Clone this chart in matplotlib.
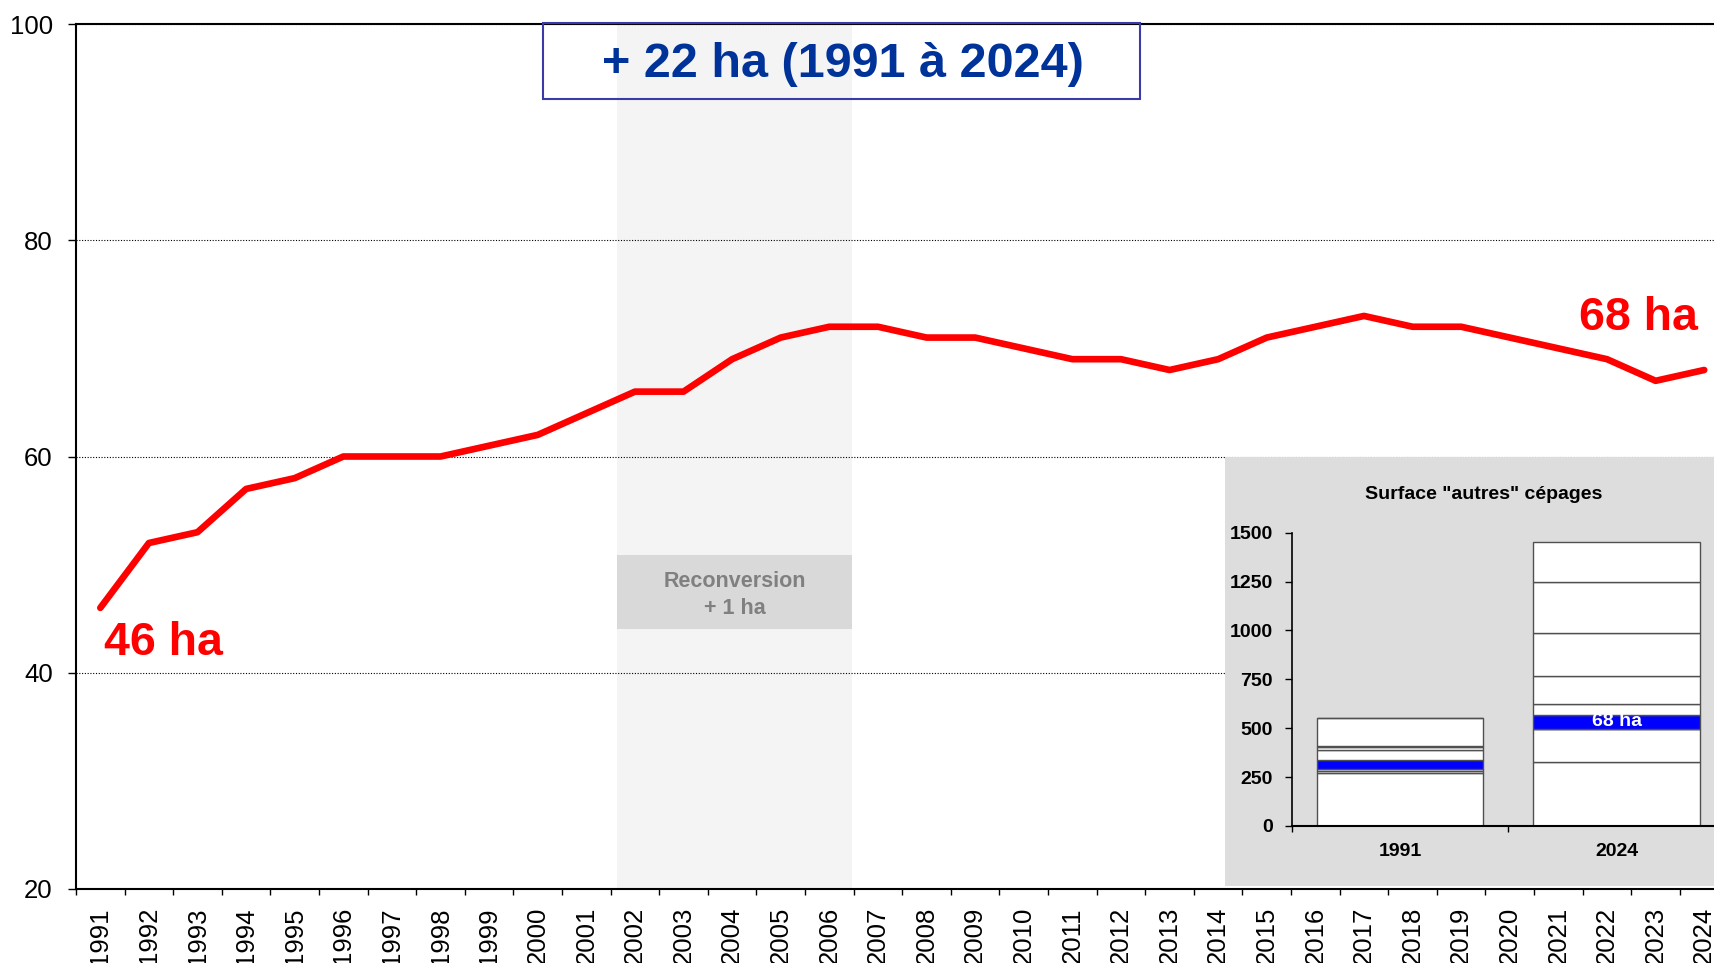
import matplotlib
matplotlib.use("Agg")
import matplotlib.pyplot as plt
import numpy as np
from matplotlib.patches import Rectangle

plt.rcParams['font.family'] = ['Liberation Sans', 'DejaVu Sans']

# ---------------- data ----------------
years = [1991, 1992, 1993, 1994, 1995, 1996, 1997, 1998, 1999, 2000, 2001, 2002,
         2003, 2004, 2005, 2006, 2007, 2008, 2009, 2010, 2011, 2012, 2013, 2014,
         2015, 2016, 2017, 2018, 2019, 2020, 2021, 2022, 2023, 2024]
surface = [46, 52, 53, 57, 58, 60, 60, 60, 61, 62, 64, 66, 66, 69, 71, 72, 72,
           71, 71, 70, 69, 69, 68, 69, 71, 72, 73, 72, 72, 71, 70, 69, 67, 68]
y_ticks = [20, 40, 60, 80, 100]

title_text = "+ 22 ha (1991 à 2024)"
start_label = "46 ha"
end_label = "68 ha"
reconv_lines = ["Reconversion", "+ 1 ha"]
reconv_span = (10.63, 15.47)   # category coordinates of the shaded period

inset_title = 'Surface "autres" cépages'
inset_years = ["1991", "2024"]
# stacked segments (ha), one list per series: [1991, 2024]
inset_segments = [
    [271, 326],
    [10, 172],
    [9, 0],
    [46, 68],     # highlighted series
    [52, 56],
    [15, 145],
    [8, 218],
    [143, 261],
    [0, 206],
]
highlight_index = 3
inset_yticks = [0, 250, 500, 750, 1000, 1250, 1500]
inset_label = "68 ha"

# ---------------- figure ----------------
W, H = 1715, 963
fig = plt.figure(figsize=(W / 100, H / 100), dpi=100)


def fx(px):
    return px / W


def fy(py):
    return 1 - py / H


ax = fig.add_axes([fx(76), fy(889), 1652.5 / W, 865 / H])
ax.set_xlim(-0.5, len(years) - 0.5)
ax.set_ylim(20, 100)

ax.axvspan(reconv_span[0], reconv_span[1], color='#f4f4f4', lw=0, zorder=0)
ax.set_yticks(y_ticks)
ax.yaxis.grid(True, linestyle=(0, (1, 1.5)), color='black', lw=0.8)
ax.set_axisbelow(True)

xs = np.arange(len(years))
ax.plot(xs, surface, color='#ff0000', lw=4.8, solid_capstyle='round',
        solid_joinstyle='round', zorder=3)

ax.set_xticks(xs)
ax.set_xticklabels([str(y) for y in years], rotation=90)
ax.set_xticks(np.arange(-0.5, len(years), 1.0), minor=True)
ax.tick_params(axis='x', which='major', length=0, pad=13, labelsize=18.5)
ax.tick_params(axis='x', which='minor', length=4.5, width=1, direction='out')
ax.tick_params(axis='y', length=5.8, width=1, pad=11, labelsize=18.5, direction='out')
ax.spines['right'].set_visible(False)
for s in ['left', 'bottom', 'top']:
    ax.spines[s].set_linewidth(1.5)

# title box
fig.add_artist(Rectangle((fx(542.5), fy(99.5)), (1139.7 - 542.5) / W, (99.5 - 23) / H,
                         transform=fig.transFigure, fill=False,
                         edgecolor='#3a3aa8', lw=1.5, zorder=1))
fig.text(fx(843), fy(76.6), title_text, ha='center', va='baseline',
         fontsize=35, weight='bold', color='#003399', zorder=3)

# start / end labels
fig.text(fx(104), fy(655), start_label, ha='left', va='baseline',
         fontsize=33.5, weight='bold', color='#ff0000', zorder=3)
fig.text(fx(1579), fy(330), end_label, ha='left', va='baseline',
         fontsize=33.5, weight='bold', color='#ff0000', zorder=3)

# reconversion box
fig.add_artist(Rectangle((fx(617), fy(629)), 235 / W, 74 / H,
                         transform=fig.transFigure, facecolor='#d9d9d9',
                         edgecolor='none', zorder=1))
fig.text(fx(735), fy(587.2), reconv_lines[0], ha='center', va='baseline',
         fontsize=15.5, weight='bold', color='#808080', zorder=3)
fig.text(fx(735), fy(613.6), reconv_lines[1], ha='center', va='baseline',
         fontsize=15.5, weight='bold', color='#808080', zorder=3)

# ---------------- inset ----------------
fig.add_artist(Rectangle((fx(1225), fy(886)), 490 / W, 429 / H,
                         transform=fig.transFigure, facecolor='#dddddd',
                         edgecolor='none', zorder=1))
fig.text(fx(1484), fy(499), inset_title, ha='center', va='baseline',
         fontsize=14, weight='bold', color='black', zorder=3)

ax2 = fig.add_axes([fx(1291.7), fy(826), 433.2 / W, 293.3 / H])
ax2.set_zorder(2)
ax2.set_facecolor('none')
ix = np.arange(len(inset_years))
bottom = np.zeros(len(inset_years))
for i, seg in enumerate(inset_segments):
    seg = np.array(seg, dtype=float)
    face = '#0000ff' if i == highlight_index else 'white'
    ax2.bar(ix, seg, bottom=bottom, width=0.768, color=face,
            edgecolor='#505050', lw=1.0, zorder=2)
    bottom += seg

hl_bottom = sum(s[1] for s in inset_segments[:highlight_index])
ax2.text(1, hl_bottom + inset_segments[highlight_index][1] / 2, inset_label,
         ha='center', va='center', fontsize=14, weight='bold', color='white', zorder=4)

ax2.set_xlim(-0.5, 1.5)
ax2.set_ylim(0, 1500)
ax2.set_yticks(inset_yticks)
ax2.set_xticks(ix)
ax2.set_xticklabels(inset_years)
ax2.set_xticks([-0.5, 0.5], minor=True)
ax2.tick_params(axis='x', which='major', length=0, pad=12, labelsize=14)
ax2.tick_params(axis='x', which='minor', length=4.3, width=1)
ax2.tick_params(axis='y', length=5, width=1, pad=8.5, labelsize=14)
for lab in ax2.get_xticklabels() + ax2.get_yticklabels():
    lab.set_fontweight('bold')
ax2.spines['top'].set_visible(False)
ax2.spines['right'].set_visible(False)
ax2.spines['left'].set_linewidth(1.2)
ax2.spines['bottom'].set_linewidth(1.5)

fig.savefig("out.png", dpi=100)
